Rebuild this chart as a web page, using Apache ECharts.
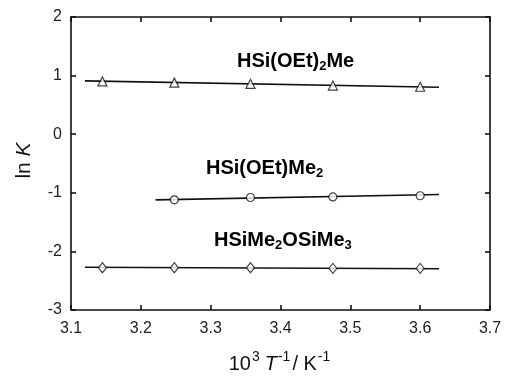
<!DOCTYPE html>
<html><head><meta charset="utf-8">
<script src="https://cdn.jsdelivr.net/npm/echarts@6/dist/echarts.min.js"></script>
<style>html,body{margin:0;padding:0;background:#fff}#c{width:505px;height:377px}</style>
</head><body><div id="c"></div>
<script>
// x values (10^3 / T)
const xPts = [3.145, 3.248, 3.357, 3.475, 3.600];
const xPtsCircle = [3.248, 3.357, 3.475, 3.600];
// ln K values
const lnK_OEt2Me = [0.90, 0.88, 0.86, 0.83, 0.81];
const lnK_OEtMe2 = [-1.12, -1.08, -1.07, -1.05];
const lnK_Me2OSiMe3 = [-2.28, -2.28, -2.28, -2.29, -2.29];
// fitted line end points
const fitX_OEt2Me = [3.12, 3.627];
const fitY_OEt2Me = [0.91, 0.80];
const fitX_OEtMe2 = [3.221, 3.627];
const fitY_OEtMe2 = [-1.12, -1.03];
const fitX_Me2OSiMe3 = [3.12, 3.627];
const fitY_Me2OSiMe3 = [-2.27, -2.295];
const xTicks = [3.1, 3.2, 3.3, 3.4, 3.5, 3.6, 3.7];
const yTicks = [-3, -2, -1, 0, 1, 2];

const zip = (a, b) => a.map((v, i) => [v, b[i]]);
const font = '"Liberation Sans", Arial, sans-serif';
const chart = echarts.init(document.getElementById('c'));
const markerStyle = { color: '#fff', borderColor: '#111', borderWidth: 1.2 };
const lineStyle = { color: '#111', width: 1.6 };
const axisCommon = {
  type: 'value', splitLine: { show: false },
  axisLine: { show: true, onZero: false, lineStyle: { color: '#111', width: 1.6 } },
  axisTick: { show: true, inside: true, length: 5, lineStyle: { color: '#111', width: 1.6 } }
};
chart.setOption({
  animation: false,
  grid: { left: 71, right: 15, top: 17, bottom: 67, containLabel: false, outerBoundsMode: 'none' },
  xAxis: [
    Object.assign({}, axisCommon, { min: 3.1, max: 3.7, interval: 0.1, position: 'bottom',
      axisLabel: { color: '#222', fontSize: 16, fontFamily: font, margin: 11,
        formatter: v => xTicks.find(t => Math.abs(t - v) < 1e-6)?.toFixed(1) ?? '' },
      name: '{n|10}{sup|3}{i|T}{sup|-1}{n|/ K}{sup|-1}', nameLocation: 'middle', nameGap: 40,
      nameTextStyle: { rich: {
        n: { fontSize: 20, fontFamily: font, color: '#111', lineHeight: 24, verticalAlign: 'bottom' },
        i: { fontSize: 20, fontFamily: font, fontStyle: 'italic', color: '#111', lineHeight: 24, verticalAlign: 'bottom', padding: [0, 0, 0, 3] },
        sup: { fontSize: 14, fontFamily: font, color: '#111', lineHeight: 24, verticalAlign: 'top', padding: [0, 2, 0, 1] }
      } } }),
    Object.assign({}, axisCommon, { min: 3.1, max: 3.7, interval: 0.1, position: 'top', axisLabel: { show: false } })
  ],
  yAxis: [
    Object.assign({}, axisCommon, { min: -3, max: 2, interval: 1, position: 'left',
      axisLabel: { color: '#222', fontSize: 16, fontFamily: font, margin: 9,
        formatter: v => String(yTicks.find(t => Math.abs(t - v) < 1e-6) ?? '') },
      name: '{n|ln }{i|K}', nameLocation: 'middle', nameGap: 36, nameRotate: 90,
      nameTextStyle: { padding: [0, 0, 0, 6], rich: {
        n: { fontSize: 21, fontFamily: font, color: '#111' },
        i: { fontSize: 21, fontFamily: font, fontStyle: 'italic', color: '#111' }
      } } }),
    Object.assign({}, axisCommon, { min: -3, max: 2, interval: 1, position: 'right', axisLabel: { show: false } })
  ],
  series: [
    { type: 'line', data: zip(fitX_OEt2Me, fitY_OEt2Me), symbol: 'none', lineStyle, z: 2 },
    { type: 'line', data: zip(fitX_OEtMe2, fitY_OEtMe2), symbol: 'none', lineStyle, z: 2 },
    { type: 'line', data: zip(fitX_Me2OSiMe3, fitY_Me2OSiMe3), symbol: 'none', lineStyle, z: 2 },
    { type: 'scatter', data: zip(xPts, lnK_OEt2Me), symbol: 'triangle', symbolSize: 9, itemStyle: markerStyle, z: 3 },
    { type: 'scatter', data: zip(xPtsCircle, lnK_OEtMe2), symbol: 'circle', symbolSize: 8, itemStyle: markerStyle, z: 3 },
    { type: 'scatter', data: zip(xPts, lnK_Me2OSiMe3), symbol: 'diamond', symbolSize: [8, 10], itemStyle: markerStyle, z: 3 }
  ]
});
const rich = {
  b: { fontSize: 20, fontWeight: 'bold', fontFamily: font, color: '#111', lineHeight: 24 },
  s: { fontSize: 13, fontWeight: 'bold', fontFamily: font, color: '#111', lineHeight: 13, verticalAlign: 'bottom' }
};
chart.setOption({ graphic: [
  { type: 'text', left: 237, top: 51, style: { text: '{b|HSi(OEt)}{s|2}{b|Me}', rich } },
  { type: 'text', left: 206, top: 158, style: { text: '{b|HSi(OEt)Me}{s|2}', rich } },
  { type: 'text', left: 214, top: 230, style: { text: '{b|HSiMe}{s|2}{b|OSiMe}{s|3}', rich } }
] });
</script></body></html>
